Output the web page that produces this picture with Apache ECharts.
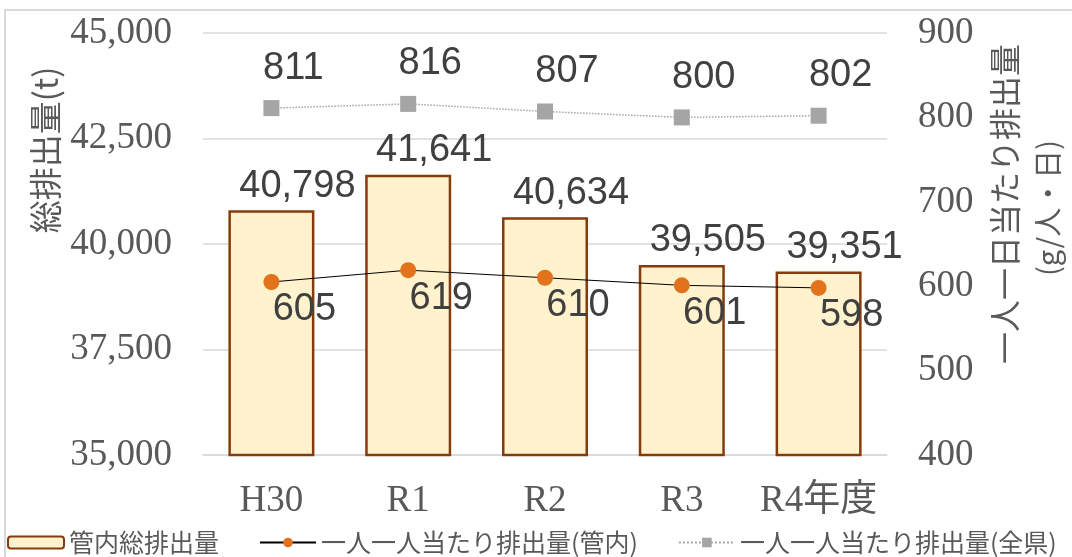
<!DOCTYPE html>
<html>
<head>
<meta charset="utf-8">
<script src="https://cdn.jsdelivr.net/npm/echarts@6/dist/echarts.min.js"></script>
<style>
html, body { margin: 0; padding: 0; background: #fff; }
#chart { width: 1072px; height: 557px; }
</style>
</head>
<body>
<div id="chart"></div>
<script>
// 年度
var categories = ['H30', 'R1', 'R2', 'R3', 'R4年度'];
// 管内総排出量(t)
var totalValues = [40798, 41641, 40634, 39505, 39351];
// 一人一日当たり排出量(管内)
var perCapitaLocal = [605, 619, 610, 601, 598];
// 一人一日当たり排出量(全県)
var perCapitaPref = [811, 816, 807, 800, 802];

var serif = "'Liberation Serif', 'Noto Sans CJK JP', serif";
var sans = "'Liberation Sans', 'Noto Sans CJK JP', sans-serif";
var cjk = "'Noto Sans CJK JP', sans-serif";

var myChart = echarts.init(document.getElementById('chart'));
var option = {
    animation: false,
    grid: { left: 203, right: 185, top: 33, bottom: 102 },
    legend: {
        left: 7,
        top: 530,
        width: 1065,
        padding: 0,
        itemGap: 40,
        itemWidth: 56,
        itemHeight: 12,
        textStyle: { fontFamily: cjk, fontSize: 25, color: '#595959' },
        data: ['管内総排出量', '一人一人当たり排出量(管内)', '一人一人当たり排出量(全県)']
    },
    graphic: [
        {
            type: 'rect', silent: true, z: -10,
            shape: { x: 5, y: 10, width: 1100, height: 600 },
            style: { fill: 'none', stroke: '#d9d9d9', lineWidth: 2 }
        },
        {
            type: 'text', x: 45, y: 150, rotation: Math.PI / 2,
            style: { text: '総排出量(t)', fontFamily: cjk, fontSize: 33, fill: '#595959',
                     align: 'center', verticalAlign: 'middle' }
        },
        {
            type: 'text', x: 1005, y: 204, rotation: Math.PI / 2,
            style: { text: '一人一日当たり排出量', fontFamily: cjk, fontSize: 32, fill: '#595959',
                     align: 'center', verticalAlign: 'middle' }
        },
        {
            type: 'text', x: 1048, y: 208, rotation: Math.PI / 2,
            style: { text: '(g/人・日)', fontFamily: cjk, fontSize: 29, fill: '#595959',
                     align: 'center', verticalAlign: 'middle' }
        }
    ],
    xAxis: {
        type: 'category',
        data: categories,
        axisLine: { lineStyle: { color: '#d9d9d9', width: 1.5 } },
        axisTick: { show: false },
        axisLabel: { interval: 0, fontFamily: serif, fontSize: 37, color: '#595959', margin: 28 }
    },
    yAxis: [
        {
            type: 'value', min: 35000, max: 45000, interval: 2500,
            axisLine: { show: false },
            axisTick: { show: false },
            splitLine: { lineStyle: { color: '#d9d9d9', width: 1.5 } },
            axisLabel: {
                fontFamily: serif, fontSize: 37, color: '#595959', margin: 31,
                formatter: function (v) { return v.toLocaleString('en-US'); }
            }
        },
        {
            type: 'value', min: 400, max: 900, interval: 100,
            axisLine: { show: false },
            axisTick: { show: false },
            splitLine: { show: false },
            axisLabel: { fontFamily: serif, fontSize: 37, color: '#595959', margin: 31 }
        }
    ],
    series: [
        {
            name: '管内総排出量',
            type: 'bar',
            data: totalValues,
            barWidth: 86,
            itemStyle: { color: '#fff2cc', borderColor: '#843c0c', borderWidth: 2.5 },
            label: {
                show: true, position: 'top', distance: 5, offset: [26, 0],
                fontFamily: sans, fontSize: 38, color: '#404040',
                formatter: function (p) { return p.value.toLocaleString('en-US'); }
            }
        },
        {
            name: '一人一人当たり排出量(管内)',
            type: 'line',
            yAxisIndex: 1,
            data: perCapitaLocal,
            symbol: 'circle',
            symbolSize: 16,
            lineStyle: { color: '#000', width: 1 },
            itemStyle: { color: '#e2731c' },
            label: {
                show: true, position: 'inside', offset: [33, 28],
                fontFamily: sans, fontSize: 38, color: '#404040'
            }
        },
        {
            name: '一人一人当たり排出量(全県)',
            type: 'line',
            yAxisIndex: 1,
            data: perCapitaPref,
            symbol: 'rect',
            symbolSize: 16,
            lineStyle: { color: '#a5a5a5', width: 1.5, type: 'dotted' },
            itemStyle: { color: '#a5a5a5' },
            label: {
                show: true, position: 'inside', offset: [22, -40],
                fontFamily: sans, fontSize: 38, color: '#404040'
            }
        }
    ]
};
myChart.setOption(option);
</script>
</body>
</html>
